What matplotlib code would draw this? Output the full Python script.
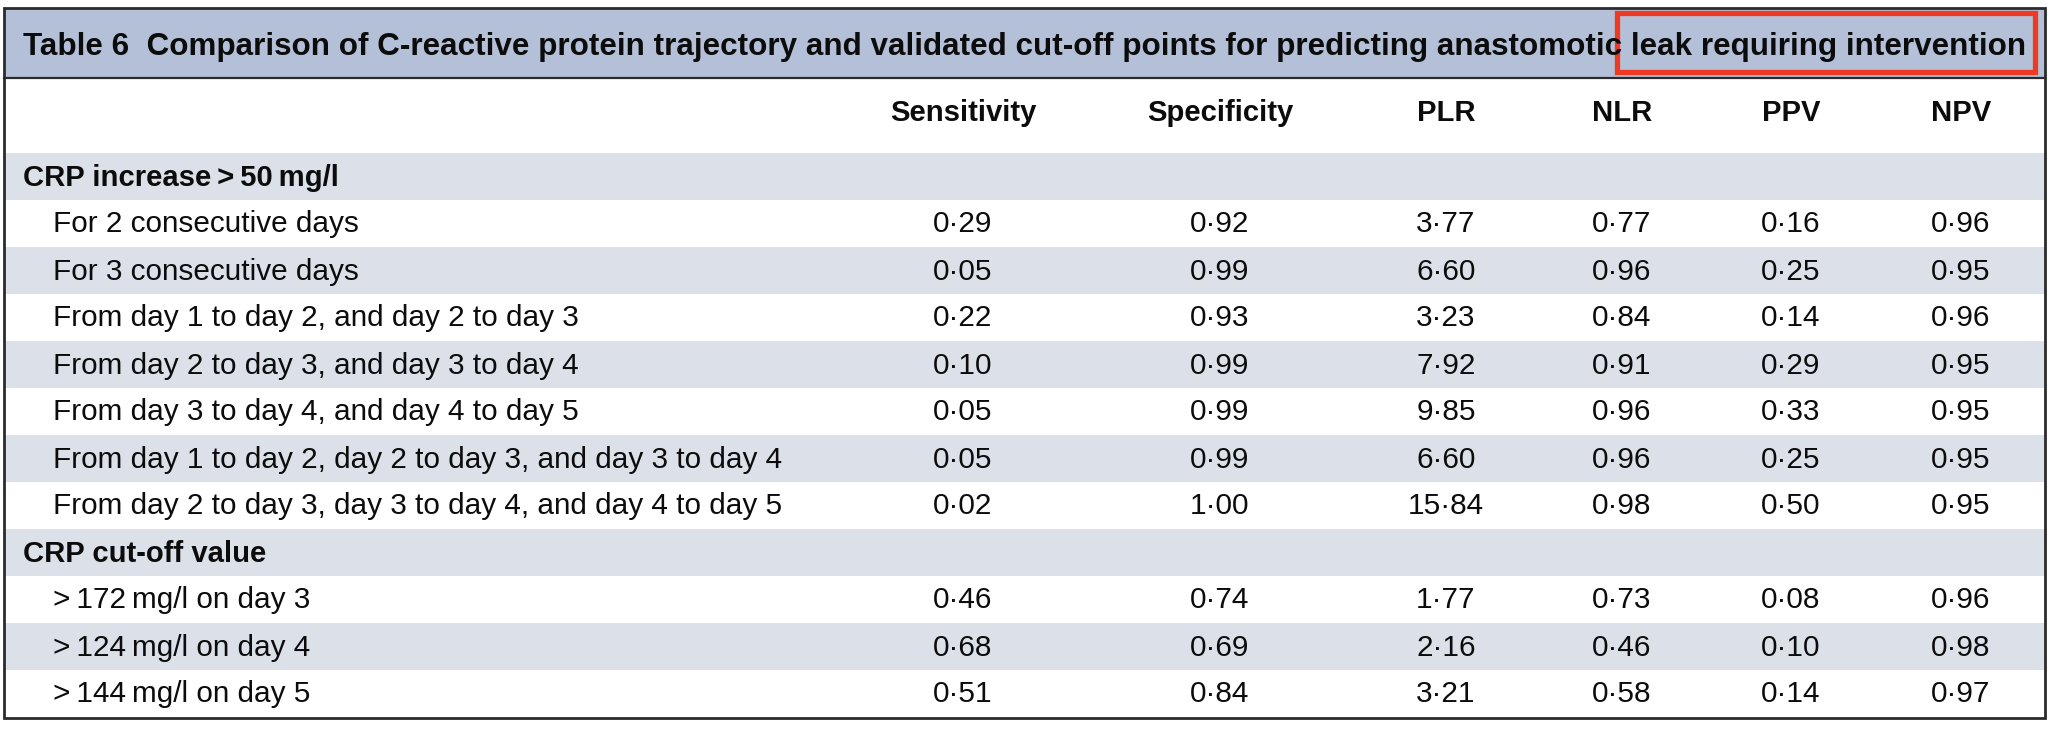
import matplotlib
matplotlib.use("Agg")
import matplotlib.pyplot as plt
from matplotlib.patches import Rectangle

plt.rcParams['font.family'] = ['Liberation Sans', 'DejaVu Sans']

title = ("Table 6  Comparison of C-reactive protein trajectory and validated "
         "cut-off points for predicting anastomotic leak requiring intervention")
columns = ["Sensitivity", "Specificity", "PLR", "NLR", "PPV", "NPV"]

section1 = "CRP increase\u2009>\u200950\u2009mg/l"
labels1 = [
    "For 2 consecutive days",
    "For 3 consecutive days",
    "From day 1 to day 2, and day 2 to day 3",
    "From day 2 to day 3, and day 3 to day 4",
    "From day 3 to day 4, and day 4 to day 5",
    "From day 1 to day 2, day 2 to day 3, and day 3 to day 4",
    "From day 2 to day 3, day 3 to day 4, and day 4 to day 5",
]
values1 = [
    [0.29, 0.92, 3.77, 0.77, 0.16, 0.96],
    [0.05, 0.99, 6.60, 0.96, 0.25, 0.95],
    [0.22, 0.93, 3.23, 0.84, 0.14, 0.96],
    [0.10, 0.99, 7.92, 0.91, 0.29, 0.95],
    [0.05, 0.99, 9.85, 0.96, 0.33, 0.95],
    [0.05, 0.99, 6.60, 0.96, 0.25, 0.95],
    [0.02, 1.00, 15.84, 0.98, 0.50, 0.95],
]

section2 = "CRP cut-off value"
labels2 = [
    ">\u2009172\u2009mg/l on day 3",
    ">\u2009124\u2009mg/l on day 4",
    ">\u2009144\u2009mg/l on day 5",
]
values2 = [
    [0.46, 0.74, 1.77, 0.73, 0.08, 0.96],
    [0.68, 0.69, 2.16, 0.46, 0.10, 0.98],
    [0.51, 0.84, 3.21, 0.58, 0.14, 0.97],
]

W, H = 2052, 730
fig = plt.figure(figsize=(W / 100, H / 100), dpi=100)
ax = fig.add_axes([0, 0, 1, 1])
ax.set_xlim(0, W)
ax.set_ylim(H, 0)
ax.axis("off")

band_col = "#b3c0d7"
shade_col = "#dce1e9"
ink = "#0c0c0c"

left, right, top, bottom = 4, 2045, 8, 718
band_bottom = 78
header_bottom = 153
row_h = 47
col_x = [963, 1220, 1446, 1622, 1791, 1961]

# rows: (label, values, kind)
rows = [(section1, None, "section")]
rows += [(l, v, "item") for l, v in zip(labels1, values1)]
rows += [(section2, None, "section")]
rows += [(l, v, "item") for l, v in zip(labels2, values2)]

ax.add_patch(Rectangle((left, top), right - left, band_bottom - top,
                       facecolor=band_col, edgecolor="none"))

body_texts = []
bold_texts = []
for i, (label, vals, kind) in enumerate(rows):
    y0 = header_bottom + i * row_h
    if kind == "section" or i % 2 == 0:
        ax.add_patch(Rectangle((left, y0), right - left, row_h,
                               facecolor=shade_col, edgecolor="none"))
    yc = y0 + row_h / 2 + 1
    if kind == "section":
        bold_texts.append(ax.text(23, yc, label, fontsize=20, fontweight="bold",
                                  color=ink, va="center", ha="left"))
    else:
        body_texts.append(ax.text(53, yc, label, fontsize=20, color=ink,
                                  va="center", ha="left"))
        for x, v in zip(col_x, vals):
            s = f"{v:.2f}".replace(".", "\u00b7")
            body_texts.append(ax.text(x, yc, s, fontsize=20, color=ink,
                                      va="center", ha="center"))

for x, c in zip(col_x, columns):
    bold_texts.append(ax.text(x, 113, c, fontsize=20, fontweight="bold",
                              color=ink, va="center", ha="center"))

ttl = ax.text(23, 55, title, fontsize=20, fontweight="bold", color=ink,
              va="baseline", ha="left")

# separators and frame
ax.plot([left, right], [band_bottom, band_bottom], color="#2b2b2b", lw=1.6)
ax.add_patch(Rectangle((left, top), right - left, bottom - top,
                       facecolor="none", edgecolor="#2b2b2b", lw=2.0))

# red highlight box
ax.add_patch(Rectangle((1617, 13), 2035 - 1617, 72 - 13,
                       facecolor="none", edgecolor="#ee3a22", lw=3.8))

# scale text so widths match the reference
renderer = fig.canvas.get_renderer()


def scale_for(txt, width):
    return txt.get_fontsize() * width / txt.get_window_extent(renderer).width


ttl.set_fontsize(scale_for(ttl, 1995))
ref_body = [t for t in body_texts if t.get_text() == labels1[-1]][0]
body_size = scale_for(ref_body, 728)
for t in body_texts:
    t.set_fontsize(body_size)
ref_bold = [t for t in bold_texts if t.get_text() == "Specificity"][0]
bold_size = scale_for(ref_bold, 146)
for t in bold_texts:
    t.set_fontsize(bold_size)

fig.savefig("out.png", dpi=100, facecolor="white")
